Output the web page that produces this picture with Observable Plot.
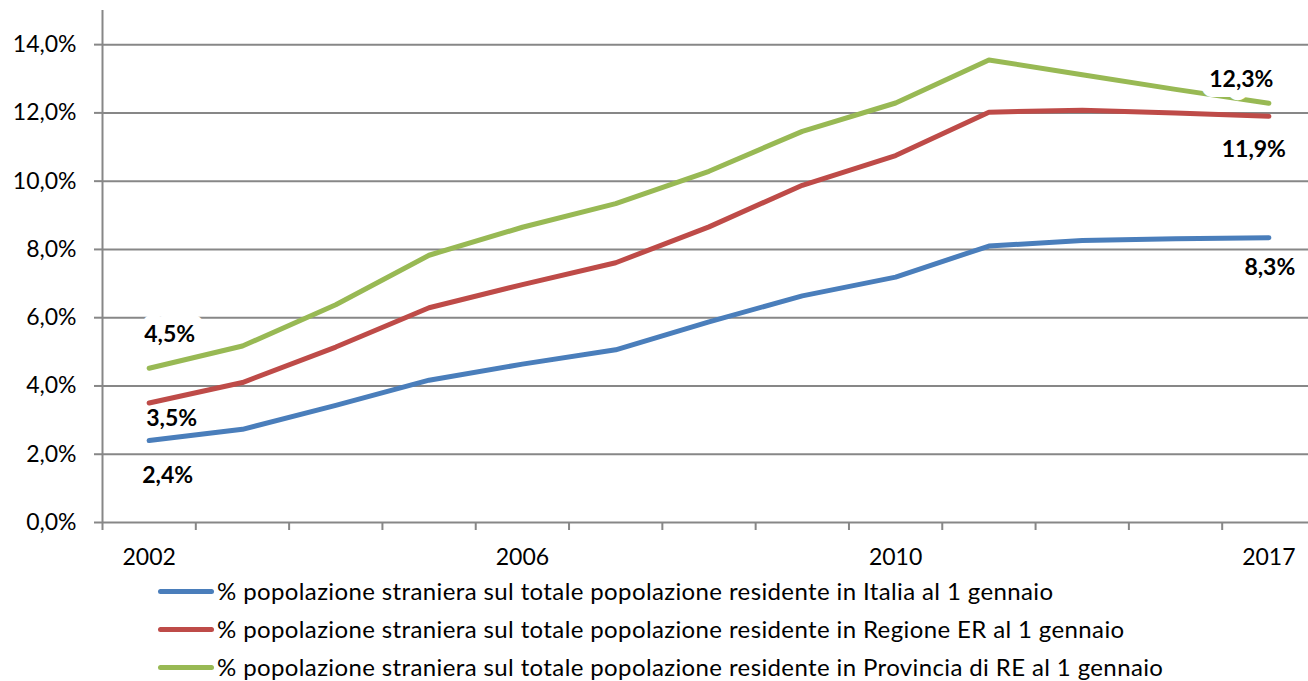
<!DOCTYPE html>
<html>
<head>
<meta charset="utf-8">
<script src="https://cdn.jsdelivr.net/npm/d3@7"></script>
<script src="https://cdn.jsdelivr.net/npm/@observablehq/plot@0.6"></script>
<style>
  html, body { margin: 0; padding: 0; background: #fff; overflow: hidden; width: 1308px; height: 681px; }
  #wrap { position: relative; width: 1308px; height: 681px; overflow: hidden; font-family: Lato, "Open Sans", "Liberation Sans", sans-serif; }
  #chart { position: absolute; left: 0; top: 0; width: 1315px; }
  #chart svg { max-width: none !important; }
  #legend { position: absolute; left: 158px; top: 572px; }
  .row { display: flex; align-items: center; height: 38px; }
  .sw { width: 56px; height: 5px; border-radius: 3px; flex: none; }
  .lab { margin-left: 3px; font-size: 24px; line-height: 20px; letter-spacing: 0.38px; color: #000; white-space: nowrap; }
</style>
</head>
<body>
<div id="wrap"><div id="chart"></div><div id="legend"></div></div>
<script>
// categories (only every 4th label is shown on the axis)
const years = ["2002", "2003", "2004", "2005", "2006", "2007", "2008", "2009", "2010", "2014", "2015", "2016", "2017"];
const xLabelIdx = [0, 4, 8, 12];
const yTicks = [0, 2, 4, 6, 8, 10, 12, 14];

// % foreign population on total resident population at 1 January
const italia      = [2.40, 2.73, 3.43, 4.17, 4.64, 5.06, 5.88, 6.64, 7.19, 8.10, 8.26, 8.31, 8.34];
const regioneER   = [3.50, 4.10, 5.14, 6.29, 6.97, 7.61, 8.66, 9.88, 10.75, 12.02, 12.08, 12.00, 11.90];
const provinciaRE = [4.52, 5.17, 6.38, 7.83, 8.65, 9.34, 10.29, 11.46, 12.29, 13.55, 13.12, 12.69, 12.28];

const seriesNames = [
  "% popolazione straniera sul totale popolazione residente in Italia al 1 gennaio",
  "% popolazione straniera sul totale popolazione residente in Regione ER al 1 gennaio",
  "% popolazione straniera sul totale popolazione residente in Provincia di RE al 1 gennaio"
];
const seriesColors = ["#4A7EBB", "#BE4B48", "#98B954"];
const seriesValues = [italia, regioneER, provinciaRE];

const data = seriesValues.flatMap((vals, s) => vals.map((v, i) => ({i, year: years[i], v, s: seriesNames[s]})));
const n = years.length;
const bounds = d3.range(n + 1).map(i => i - 0.5);
const fmt = v => v.toFixed(1).replace(".", ",") + "%";
const grid = "#878787";
const font = 'Lato, "Open Sans", "Liberation Sans", sans-serif';

const pt = (s, i) => [{i, v: seriesValues[s][i], t: fmt(seriesValues[s][i])}];
const label = (s, i, dx, dy, halo) => Plot.text(pt(s, i), {
  x: "i", y: "v", text: "t", dx, dy,
  fontWeight: "bold", fontSize: 23, fill: "#000",
  ...(halo ? {stroke: "white", strokeWidth: 20, strokeLinejoin: "round", paintOrder: "stroke"} : {})
});

const chart = Plot.plot({
  width: 1315, height: 575,
  marginLeft: 102, marginRight: 0, marginTop: 10, marginBottom: 53,
  style: {fontFamily: font, fontSize: "23px", color: "#000", background: "white", overflow: "visible", maxWidth: "none"},
  x: {type: "linear", domain: [-0.5, n - 0.5], axis: null},
  y: {domain: [0, 15], axis: null},
  color: {domain: seriesNames, range: seriesColors},
  marks: [
    Plot.ruleY(yTicks, {x1: -0.5, x2: n - 0.5, stroke: grid, strokeWidth: 2}),
    Plot.ruleX([-0.5], {y1: 0, y2: 15, stroke: grid, strokeWidth: 2}),
    Plot.axisY(yTicks, {tickSize: 8, tickPadding: 18, tickFormat: fmt, stroke: grid, strokeWidth: 2, fill: "#000", fontSize: 23, label: null}),
    Plot.axisX(bounds, {tickSize: 8, tickFormat: () => "", stroke: grid, strokeWidth: 2, label: null}),
    Plot.axisX(xLabelIdx, {tickSize: 0, tickPadding: 26, tickFormat: i => years[i], fill: "#000", fontSize: 23, label: null}),
    Plot.line(data, {x: "i", y: "v", z: "s", stroke: "s", strokeWidth: 5, strokeLinecap: "round", strokeLinejoin: "round"}),
    label(2, 0, 20.5, -34, true),
    label(1, 0, 22.5, 16, false),
    label(0, 0, 18.5, 35, false),
    label(2, n - 1, -27.5, -24, true),
    label(1, n - 1, -15, 33, false),
    label(0, n - 1, 1, 30, false)
  ]
});
document.getElementById("chart").appendChild(chart);

const legend = document.getElementById("legend");
seriesNames.forEach((name, k) => {
  const row = document.createElement("div");
  row.className = "row";
  const sw = document.createElement("div");
  sw.className = "sw";
  sw.style.background = seriesColors[k];
  const lab = document.createElement("span");
  lab.className = "lab";
  lab.textContent = name;
  row.appendChild(sw);
  row.appendChild(lab);
  legend.appendChild(row);
});
</script>
</body>
</html>
